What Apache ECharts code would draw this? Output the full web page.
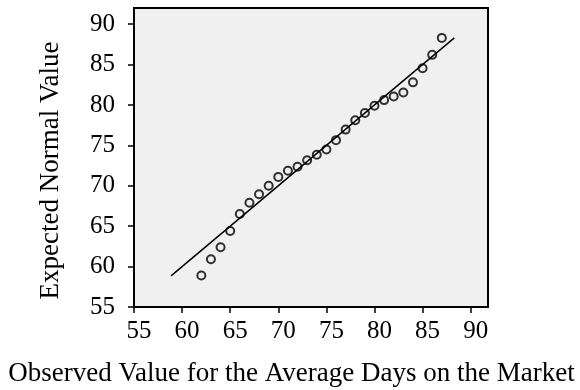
<!DOCTYPE html>
<html>
<head>
<meta charset="utf-8">
<script src="https://cdn.jsdelivr.net/npm/echarts@6/dist/echarts.min.js"></script>
<style>
  html, body { margin: 0; padding: 0; background: #ffffff; }
  #chart { width: 580px; height: 390px; }
</style>
</head>
<body>
<div id="chart"></div>
<script>
// Observed average days on the market (x) against the expected normal value (y)
const observed = [62, 63, 64, 65, 66, 67, 68, 69, 70, 71, 72, 73, 74,
                  75, 76, 77, 78, 79, 80, 81, 82, 83, 84, 85, 86, 87];
const expected = [58.9, 60.9, 62.4, 64.4, 66.5, 67.9, 68.95, 70.0, 71.1, 71.85, 72.35, 73.15, 73.85,
                  74.5, 75.65, 76.95, 78.1, 79.0, 79.9, 80.6, 81.05, 81.55, 82.8, 84.55, 86.2, 88.3];
// Reference line of the normal distribution (y = x across the expected range)
const refLineX = [58.85, 88.3];
const refLineY = [58.85, 88.3];
// Tick labels on both axes
const xTicks = [55, 60, 65, 70, 75, 80, 85, 90];
const yTicks = [55, 60, 65, 70, 75, 80, 85, 90];

const serif = "'Liberation Serif', 'Times New Roman', serif";
const chart = echarts.init(document.getElementById('chart'), null, { renderer: 'canvas' });

const axisCommon = {
  type: 'value',
  min: 55,
  interval: 5,
  splitLine: { show: false },
  axisLine: { show: true, onZero: false, lineStyle: { color: '#000', width: 2 } },
  axisTick: { show: true, inside: false, length: 6, lineStyle: { color: '#000', width: 1.5 } }
};

chart.setOption({
  animation: false,
  backgroundColor: '#ffffff',
  grid: {
    left: 134, right: 92, top: 8, bottom: 83,
    outerBoundsMode: 'none',
    containLabel: false,
    show: true,
    backgroundColor: '#f0f0f0',
    borderColor: '#000',
    borderWidth: 2
  },
  xAxis: Object.assign({}, axisCommon, {
    max: 91.8,
    name: 'Observed Value for the Average Days on the Market',
    nameLocation: 'middle',
    nameGap: 53,
    nameTextStyle: { fontFamily: serif, fontSize: 27, color: '#000', padding: [0, 39, 0, 0] },
    axisTick: Object.assign({}, axisCommon.axisTick, { customValues: xTicks }),
    axisLabel: { customValues: xTicks, fontFamily: serif, fontSize: 25, color: '#000',
                 margin: 12, padding: [0, 0, 0, 10] }
  }),
  yAxis: Object.assign({}, axisCommon, {
    max: 92,
    name: 'Expected Normal Value',
    nameLocation: 'middle',
    nameGap: 70,
    nameTextStyle: { fontFamily: serif, fontSize: 27, color: '#000', padding: [0, 26, 0, 0] },
    axisTick: Object.assign({}, axisCommon.axisTick, { customValues: yTicks }),
    axisLabel: { customValues: yTicks, fontFamily: serif, fontSize: 25, color: '#000', margin: 19 }
  }),
  series: [
    {
      type: 'line',
      data: refLineX.map((x, i) => [x, refLineY[i]]),
      symbol: 'none',
      lineStyle: { color: '#000', width: 1.5 },
      z: 2
    },
    {
      type: 'scatter',
      data: observed.map((x, i) => [x, expected[i]]),
      symbol: 'circle',
      symbolSize: 8,
      itemStyle: { color: 'rgba(0,0,0,0)', borderColor: '#000', borderWidth: 2 },
      z: 3
    }
  ]
});
</script>
</body>
</html>
